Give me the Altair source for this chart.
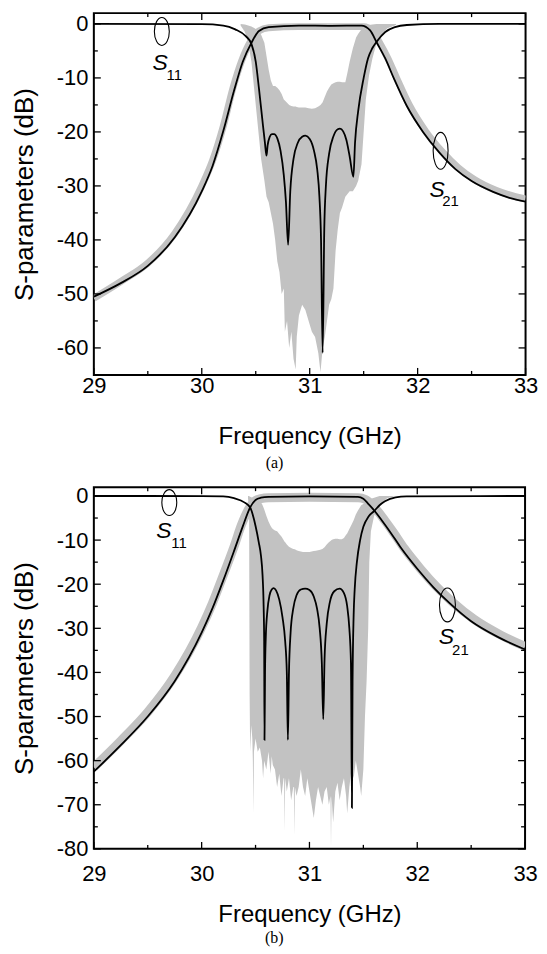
import altair as alt
import pandas as pd

# ---------------- data : panel (a) ----------------
a_s21_f = [29.0, 29.25, 29.5, 29.75, 30.0, 30.1, 30.2, 30.3, 30.38, 30.46, 30.53, 30.62, 30.9,
           31.2, 31.48, 31.56, 31.62, 31.7, 31.78, 31.9, 32.05, 32.2, 32.35, 32.5, 32.7, 32.85, 33.0]
a_s21_db = [-50.5, -48.0, -44.8, -39.5, -31.0, -26.3, -19.8, -12.3, -7.0, -3.5, -1.3, -0.6, -0.3,
            -0.35, -0.3, -1.2, -3.4, -6.4, -10.1, -15.2, -20.0, -23.8, -26.9, -29.1, -31.1, -32.2, -32.9]

a_s21g_f = [29.0, 29.25, 29.5, 29.75, 30.0, 30.1, 30.2, 30.29, 30.37, 30.45, 30.53, 30.62, 30.9,
            31.2, 31.5, 31.58, 31.645, 31.725, 31.805, 31.925, 32.075, 32.225, 32.375, 32.525, 32.725, 32.875, 33.0]
a_s21g_db = [-50.8, -47.7, -44.3, -38.8, -30.0, -25.3, -18.9, -11.8, -6.8, -3.3, -1.3, -0.7, -0.5,
             -0.5, -0.5, -1.3, -3.4, -6.4, -10.0, -15.1, -19.9, -23.6, -26.6, -28.8, -30.8, -31.8, -32.4]

a_s11_f = [29.0, 30.0, 30.2, 30.31, 30.41, 30.46, 30.5, 30.53, 30.56, 30.585, 30.6, 30.61, 30.63, 30.65,
           30.67, 30.7, 30.73, 30.76, 30.78, 30.8, 30.82, 30.85, 30.89, 30.93, 30.96, 31.0, 31.04, 31.07,
           31.09, 31.105, 31.12, 31.135, 31.15, 31.18, 31.22, 31.26, 31.28, 31.31, 31.34, 31.37, 31.405,
           31.42, 31.45, 31.5, 31.54, 31.58, 31.62, 31.7, 31.79, 31.9, 32.2, 33.0]
a_s11_db = [0.0, -0.05, -0.3, -1.0, -2.3, -3.7, -7.0, -12.0, -17.5, -22.0, -24.4, -22.5, -20.9, -20.4,
            -20.4, -21.2, -23.5, -28.0, -33.0, -40.9, -31.0, -25.0, -22.0, -20.9, -20.7, -21.3, -23.5, -27.0,
            -32.0, -40.0, -60.9, -38.0, -30.0, -24.0, -20.8, -19.5, -19.4, -19.9, -21.5, -24.5, -28.3,
            -22.0, -16.0, -10.0, -6.4, -4.5, -3.3, -1.5, -0.6, -0.2, 0.0, 0.0]

a_g11_f = [30.36, 30.4, 30.43, 30.46, 30.49, 30.52, 30.55, 30.58, 30.6, 30.62, 30.64, 30.66, 30.68, 30.7,
           30.72, 30.74, 30.76, 30.77, 30.79, 30.81, 30.83, 30.85, 30.87, 30.88, 30.9, 30.93, 30.96, 30.99,
           31.02, 31.05, 31.08, 31.1, 31.12, 31.14, 31.16, 31.18, 31.2, 31.22, 31.24, 31.26, 31.28, 31.3,
           31.33, 31.35, 31.37, 31.4, 31.43, 31.45, 31.48, 31.5, 31.52, 31.55, 31.58, 31.62, 31.66, 31.72, 31.8]
a_g11_hi = [0.0, -0.1, -0.3, -0.5, -0.8, -1.2, -2.0, -3.5, -6.0, -8.5, -10.5, -11.5, -11.5, -11.8,
            -12.3, -13.0, -14.0, -14.2, -14.6, -15.0, -15.2, -15.3, -15.3, -15.4, -15.5, -15.5, -15.5, -15.6,
            -15.7, -15.6, -15.3, -15.0, -14.5, -13.5, -12.5, -11.8, -11.2, -11.0, -10.8, -10.7, -10.7, -10.8,
            -10.8, -9.0, -7.0, -4.5, -2.5, -1.8, -1.0, -0.6, -0.4, -0.2, -0.1, 0.0, 0.0, 0.0, 0.0]
a_g11_lo = [-0.3, -1.5, -3.5, -7.0, -13.0, -19.0, -25.0, -29.0, -32.0, -33.0, -35.0, -37.0, -40.0, -44.0,
            -46.0, -50.0, -49.0, -57.0, -55.0, -60.0, -57.0, -62.0, -64.0, -58.0, -54.0, -52.0, -53.0, -55.0,
            -57.0, -58.0, -61.0, -64.5, -60.0, -58.0, -55.0, -52.0, -51.0, -49.0, -42.0, -38.0, -35.0, -34.0,
            -32.0, -31.5, -31.0, -31.0, -30.0, -29.0, -26.0, -20.0, -14.0, -9.5, -6.5, -3.5, -2.0, -0.8, -0.2]

a_y_major = [0, -10, -20, -30, -40, -50, -60]
a_y_minor = [-5, -15, -25, -35, -45, -55]

a_ell = [(29.63, -1.4, 15, 28), (32.213, -23.5, 15, 37)]
a_S = [(29.615, -7.2), (32.18, -30.7)]
a_sub = [("11", 29.745, -9.5), ("21", 32.305, -32.8)]

# ---------------- data : panel (b) ----------------
b_s21_f = [29.0, 29.25, 29.5, 29.75, 30.0, 30.1, 30.2, 30.3, 30.38, 30.45, 30.5, 30.55, 30.62, 31.0,
           31.45, 31.5, 31.55, 31.605, 31.67, 31.75, 31.85, 32.0, 32.15, 32.3, 32.5, 32.75, 33.0]
b_s21_db = [-62.5, -56.5, -50.0, -42.0, -31.0, -25.5, -19.2, -12.5, -7.0, -2.6, -0.9, -0.4, -0.2, -0.1,
            -0.2, -0.6, -1.9, -3.4, -5.5, -8.2, -11.8, -16.5, -20.7, -24.3, -28.4, -32.0, -34.8]

b_s21g_f = [29.0, 29.25, 29.5, 29.75, 30.0, 30.1, 30.2, 30.3, 30.37, 30.44, 30.5, 30.55, 30.62, 31.0,
            31.45, 31.52, 31.58, 31.635, 31.7, 31.78, 31.88, 32.03, 32.18, 32.33, 32.53, 32.78, 33.0]
b_s21g_db = [-61.5, -55.5, -49.0, -40.8, -29.8, -24.3, -18.0, -11.5, -6.5, -2.8, -1.0, -0.6, -0.4, -0.3,
             -0.4, -0.8, -2.0, -3.5, -5.6, -8.3, -11.9, -16.5, -20.6, -24.1, -28.0, -31.6, -34.1]

b_s11_f = [29.0, 30.0, 30.2, 30.3, 30.4, 30.45, 30.5, 30.53, 30.55, 30.565, 30.575, 30.58, 30.583, 30.588,
           30.595, 30.61, 30.63, 30.65, 30.668, 30.69, 30.72, 30.75, 30.775, 30.79, 30.8, 30.81, 30.825,
           30.85, 30.88, 30.92, 30.96, 31.0, 31.04, 31.07, 31.095, 31.115, 31.128, 31.14, 31.16, 31.19,
           31.23, 31.28, 31.32, 31.35, 31.37, 31.385, 31.394, 31.4, 31.41, 31.42, 31.44, 31.47, 31.5,
           31.55, 31.605, 31.65, 31.7, 31.8, 31.9, 33.0]
b_s11_db = [0.0, -0.02, -0.1, -0.5, -1.5, -2.6, -6.8, -10.5, -13.5, -18.0, -25.0, -33.0, -55.3, -40.0,
            -32.0, -26.0, -22.5, -21.2, -20.9, -21.4, -23.5, -27.5, -33.0, -40.0, -55.3, -40.0, -31.0,
            -25.5, -22.5, -21.2, -21.0, -21.3, -22.8, -25.5, -30.0, -38.0, -50.6, -37.0, -29.0, -24.0,
            -21.6, -21.0, -22.0, -25.0, -30.0, -38.0, -70.7, -42.0, -27.0, -21.0, -15.0, -10.0, -7.0,
            -4.6, -3.3, -2.1, -1.2, -0.3, -0.1, 0.0]

b_g11_f = [30.43, 30.44, 30.445, 30.45, 30.46, 30.47, 30.475, 30.48, 30.485, 30.5, 30.52, 30.54, 30.56,
           30.57, 30.58, 30.6, 30.62, 30.64, 30.65, 30.66, 30.68, 30.7, 30.72, 30.74, 30.76, 30.765, 30.77,
           30.775, 30.79, 30.81, 30.83, 30.85, 30.855, 30.86, 30.865, 30.88, 30.9, 30.92, 30.94, 30.96,
           30.98, 31.0, 31.02, 31.04, 31.06, 31.08, 31.1, 31.12, 31.14, 31.16, 31.18, 31.195, 31.2, 31.205,
           31.22, 31.24, 31.26, 31.28, 31.3, 31.32, 31.34, 31.35, 31.37, 31.39, 31.41, 31.43, 31.45, 31.47,
           31.48, 31.5, 31.515, 31.53, 31.545, 31.555, 31.57, 31.6, 31.65, 31.72, 31.8]
b_g11_hi = [0.0, 0.0, -0.1, -0.2, -0.3, -0.4, -0.4, -0.5, -0.5, -0.6, -0.9, -1.2, -1.8, -2.4, -3.0, -4.5,
            -5.8, -6.8, -7.2, -7.5, -7.8, -8.0, -8.6, -9.2, -10.0, -10.2, -10.4, -10.5, -11.0, -11.5, -11.8,
            -12.0, -12.0, -12.1, -12.1, -12.3, -12.5, -12.6, -12.7, -12.7, -12.7, -12.7, -12.6, -12.5, -12.4,
            -12.3, -12.2, -12.0, -11.6, -11.0, -10.5, -10.2, -10.1, -10.0, -9.8, -9.7, -9.7, -9.8, -9.8, -9.5,
            -8.8, -8.5, -7.5, -6.5, -5.5, -4.2, -3.3, -2.5, -2.1, -1.8, -1.5, -1.2, -1.0, -0.8, -0.6, -0.4,
            0.0, 0.0, 0.0]
b_g11_lo = [-0.5, -3.0, -45.0, -58.0, -52.0, -55.0, -60.0, -72.0, -58.0, -55.0, -58.0, -57.0, -60.0,
            -64.0, -60.0, -62.0, -58.0, -63.0, -59.0, -61.0, -62.0, -66.0, -63.0, -68.0, -64.0, -64.0, -76.0,
            -64.0, -67.0, -64.0, -69.0, -66.0, -66.0, -77.0, -66.0, -68.0, -66.0, -62.0, -66.0, -68.0, -64.0,
            -67.0, -70.0, -73.0, -69.0, -66.0, -68.0, -70.0, -67.0, -66.0, -70.0, -68.0, -80.0, -68.0, -74.0,
            -67.0, -65.0, -69.0, -66.0, -64.0, -68.0, -72.0, -66.0, -62.0, -64.0, -60.0, -63.0, -66.0, -68.0,
            -62.0, -50.0, -42.0, -30.0, -15.0, -8.0, -4.5, -2.0, -0.5, 0.0]

b_y_major = [0, -10, -20, -30, -40, -50, -60, -70, -80]
b_y_minor = [-5, -15, -25, -35, -45, -55, -65, -75]

b_ell = [(29.70, -1.5, 15, 26), (32.28, -24.7, 16, 34)]
b_S = [(29.65, -7.9), (32.27, -32.0)]
b_sub = [("11", 29.79, -10.7), ("21", 32.40, -35.0)]

x_major = [29, 30, 31, 32, 33]
x_minor = [29.5, 30.5, 31.5, 32.5]

# ---------------- styling ----------------
SANS = "Liberation Sans"
SERIF = "Liberation Serif"
GRAY = "#c2c2c2"
MAJ = 7
MIN = 4


def ellipse_path(w, h):
    # ellipse inside the unit box, built from four cubic Bezier arcs (ry = 1)
    a = w / h
    k = 0.5523
    return (f"M {a} 0 C {a} {k} {k * a} 1 0 1 C {-k * a} 1 {-a} {k} {-a} 0 "
            f"C {-a} {-k} {-k * a} -1 0 -1 C {k * a} -1 {a} {-k} {a} 0 Z")


def panel(W, H, ymin, s21, s21g, s21g_w, s11, g11, ymaj, ymin_t, ells, Ss, subs, caption,
          xlab_pad, xtitle_pad, cap_off):
    xs = alt.Scale(domain=[29, 33], nice=False, zero=False)
    ys = alt.Scale(domain=[ymin, 2], nice=False, zero=False)

    xaxis = alt.Axis(values=x_major, labelExpr="'' + datum.value", labelFont=SANS, labelFontSize=22,
                     labelColor="black", labelPadding=xlab_pad, ticks=False, domain=False, grid=False,
                     labelFlush=False, labelOverlap=False,
                     title="Frequency (GHz)", titleFont=SANS, titleFontSize=24, titleFontWeight="normal",
                     titleColor="black", titlePadding=xtitle_pad)
    yaxis = alt.Axis(values=ymaj, labelExpr="'' + datum.value", labelFont=SANS, labelFontSize=22,
                     labelColor="black", labelPadding=6, ticks=False, domain=False, grid=False,
                     labelFlush=False, labelOverlap=False,
                     title="S-parameters (dB)", titleFont=SANS, titleFontSize=26, titleFontWeight="normal",
                     titleColor="black", titlePadding=19)

    def X(field):
        return alt.X(field, scale=xs, axis=xaxis)

    def Y(field):
        return alt.Y(field, scale=ys, axis=yaxis)

    df_g11 = pd.DataFrame({"f": g11[0], "hi": g11[1], "lo": g11[2]})
    area = alt.Chart(df_g11).mark_area(color=GRAY, clip=True, interpolate="linear").encode(
        x=X("f:Q"), y=Y("hi:Q"), y2="lo:Q")

    df_s21g = pd.DataFrame({"f": s21g[0], "db": s21g[1]})
    s21g_line = alt.Chart(df_s21g).mark_line(color=GRAY, strokeWidth=s21g_w, clip=True,
                                             interpolate="monotone", strokeCap="butt").encode(
        x=X("f:Q"), y=Y("db:Q"))

    df_s21 = pd.DataFrame({"f": s21[0], "db": s21[1]})
    s21_line = alt.Chart(df_s21).mark_line(color="black", strokeWidth=1.8, clip=True,
                                           interpolate="monotone").encode(x=X("f:Q"), y=Y("db:Q"))

    df_s11 = pd.DataFrame({"f": s11[0], "db": s11[1]})
    s11_line = alt.Chart(df_s11).mark_line(color="black", strokeWidth=1.8, clip=True,
                                           interpolate="monotone").encode(x=X("f:Q"), y=Y("db:Q"))

    layers = [area, s21g_line, s21_line, s11_line]

    # inward ticks on all four sides
    def xt(vals, L):
        d = pd.DataFrame({"v": vals})
        bot = alt.Chart(d).mark_rule(color="black", strokeWidth=1.3).encode(
            x=X("v:Q"), y=alt.value(H), y2=alt.value(H - L))
        top = alt.Chart(d).mark_rule(color="black", strokeWidth=1.3).encode(
            x=X("v:Q"), y=alt.value(0), y2=alt.value(L))
        return [bot, top]

    def yt(vals, L):
        d = pd.DataFrame({"v": vals})
        lft = alt.Chart(d).mark_rule(color="black", strokeWidth=1.3).encode(
            y=Y("v:Q"), x=alt.value(0), x2=alt.value(L))
        rgt = alt.Chart(d).mark_rule(color="black", strokeWidth=1.3).encode(
            y=Y("v:Q"), x=alt.value(W), x2=alt.value(W - L))
        return [lft, rgt]

    layers += xt(x_major, MAJ) + xt(x_minor, MIN) + yt(ymaj, MAJ) + yt(ymin_t, MIN)

    for (ex, ey, ew, eh) in ells:
        d = pd.DataFrame({"f": [ex], "db": [ey]})
        layers.append(alt.Chart(d).mark_point(shape=ellipse_path(ew, eh), size=eh * eh, filled=False,
                                              stroke="black", strokeWidth=1.1, opacity=1).encode(
            x=X("f:Q"), y=Y("db:Q")))

    dS = pd.DataFrame({"f": [p[0] for p in Ss], "db": [p[1] for p in Ss], "t": ["S"] * len(Ss)})
    layers.append(alt.Chart(dS).mark_text(font=SANS, fontSize=23, fontStyle="italic", color="black",
                                          align="center", baseline="middle").encode(
        x=X("f:Q"), y=Y("db:Q"), text="t:N"))
    dsub = pd.DataFrame({"t": [p[0] for p in subs], "f": [p[1] for p in subs], "db": [p[2] for p in subs]})
    layers.append(alt.Chart(dsub).mark_text(font=SANS, fontSize=15, color="black",
                                            align="center", baseline="middle").encode(
        x=X("f:Q"), y=Y("db:Q"), text="t:N"))

    return alt.layer(*layers).properties(
        width=W, height=H,
        title=alt.TitleParams(text=caption, orient="bottom", anchor="middle", frame="bounds",
                              font=SERIF, fontSize=16, fontWeight="normal", color="black", offset=cap_off))


pa = panel(433.5, 363.3, -65,
           (a_s21_f, a_s21_db), (a_s21g_f, a_s21g_db), 7, (a_s11_f, a_s11_db),
           (a_g11_f, a_g11_hi, a_g11_lo), a_y_major, a_y_minor, a_ell, a_S, a_sub, "(a)",
           1, 28, 6)
pb = panel(433, 363.2, -80,
           (b_s21_f, b_s21_db), (b_s21g_f, b_s21g_db), 9, (b_s11_f, b_s11_db),
           (b_g11_f, b_g11_hi, b_g11_lo), b_y_major, b_y_minor, b_ell, b_S, b_sub, "(b)",
           15, 18, 4)

chart = alt.vconcat(pa, pb, spacing=11).properties(
    padding={"left": 2.2, "top": 1.2, "right": 0, "bottom": 0},
    background="white"
).configure_view(stroke="black", strokeWidth=2)

chart.save("out.html", embed_options={"renderer": "svg", "actions": False})
